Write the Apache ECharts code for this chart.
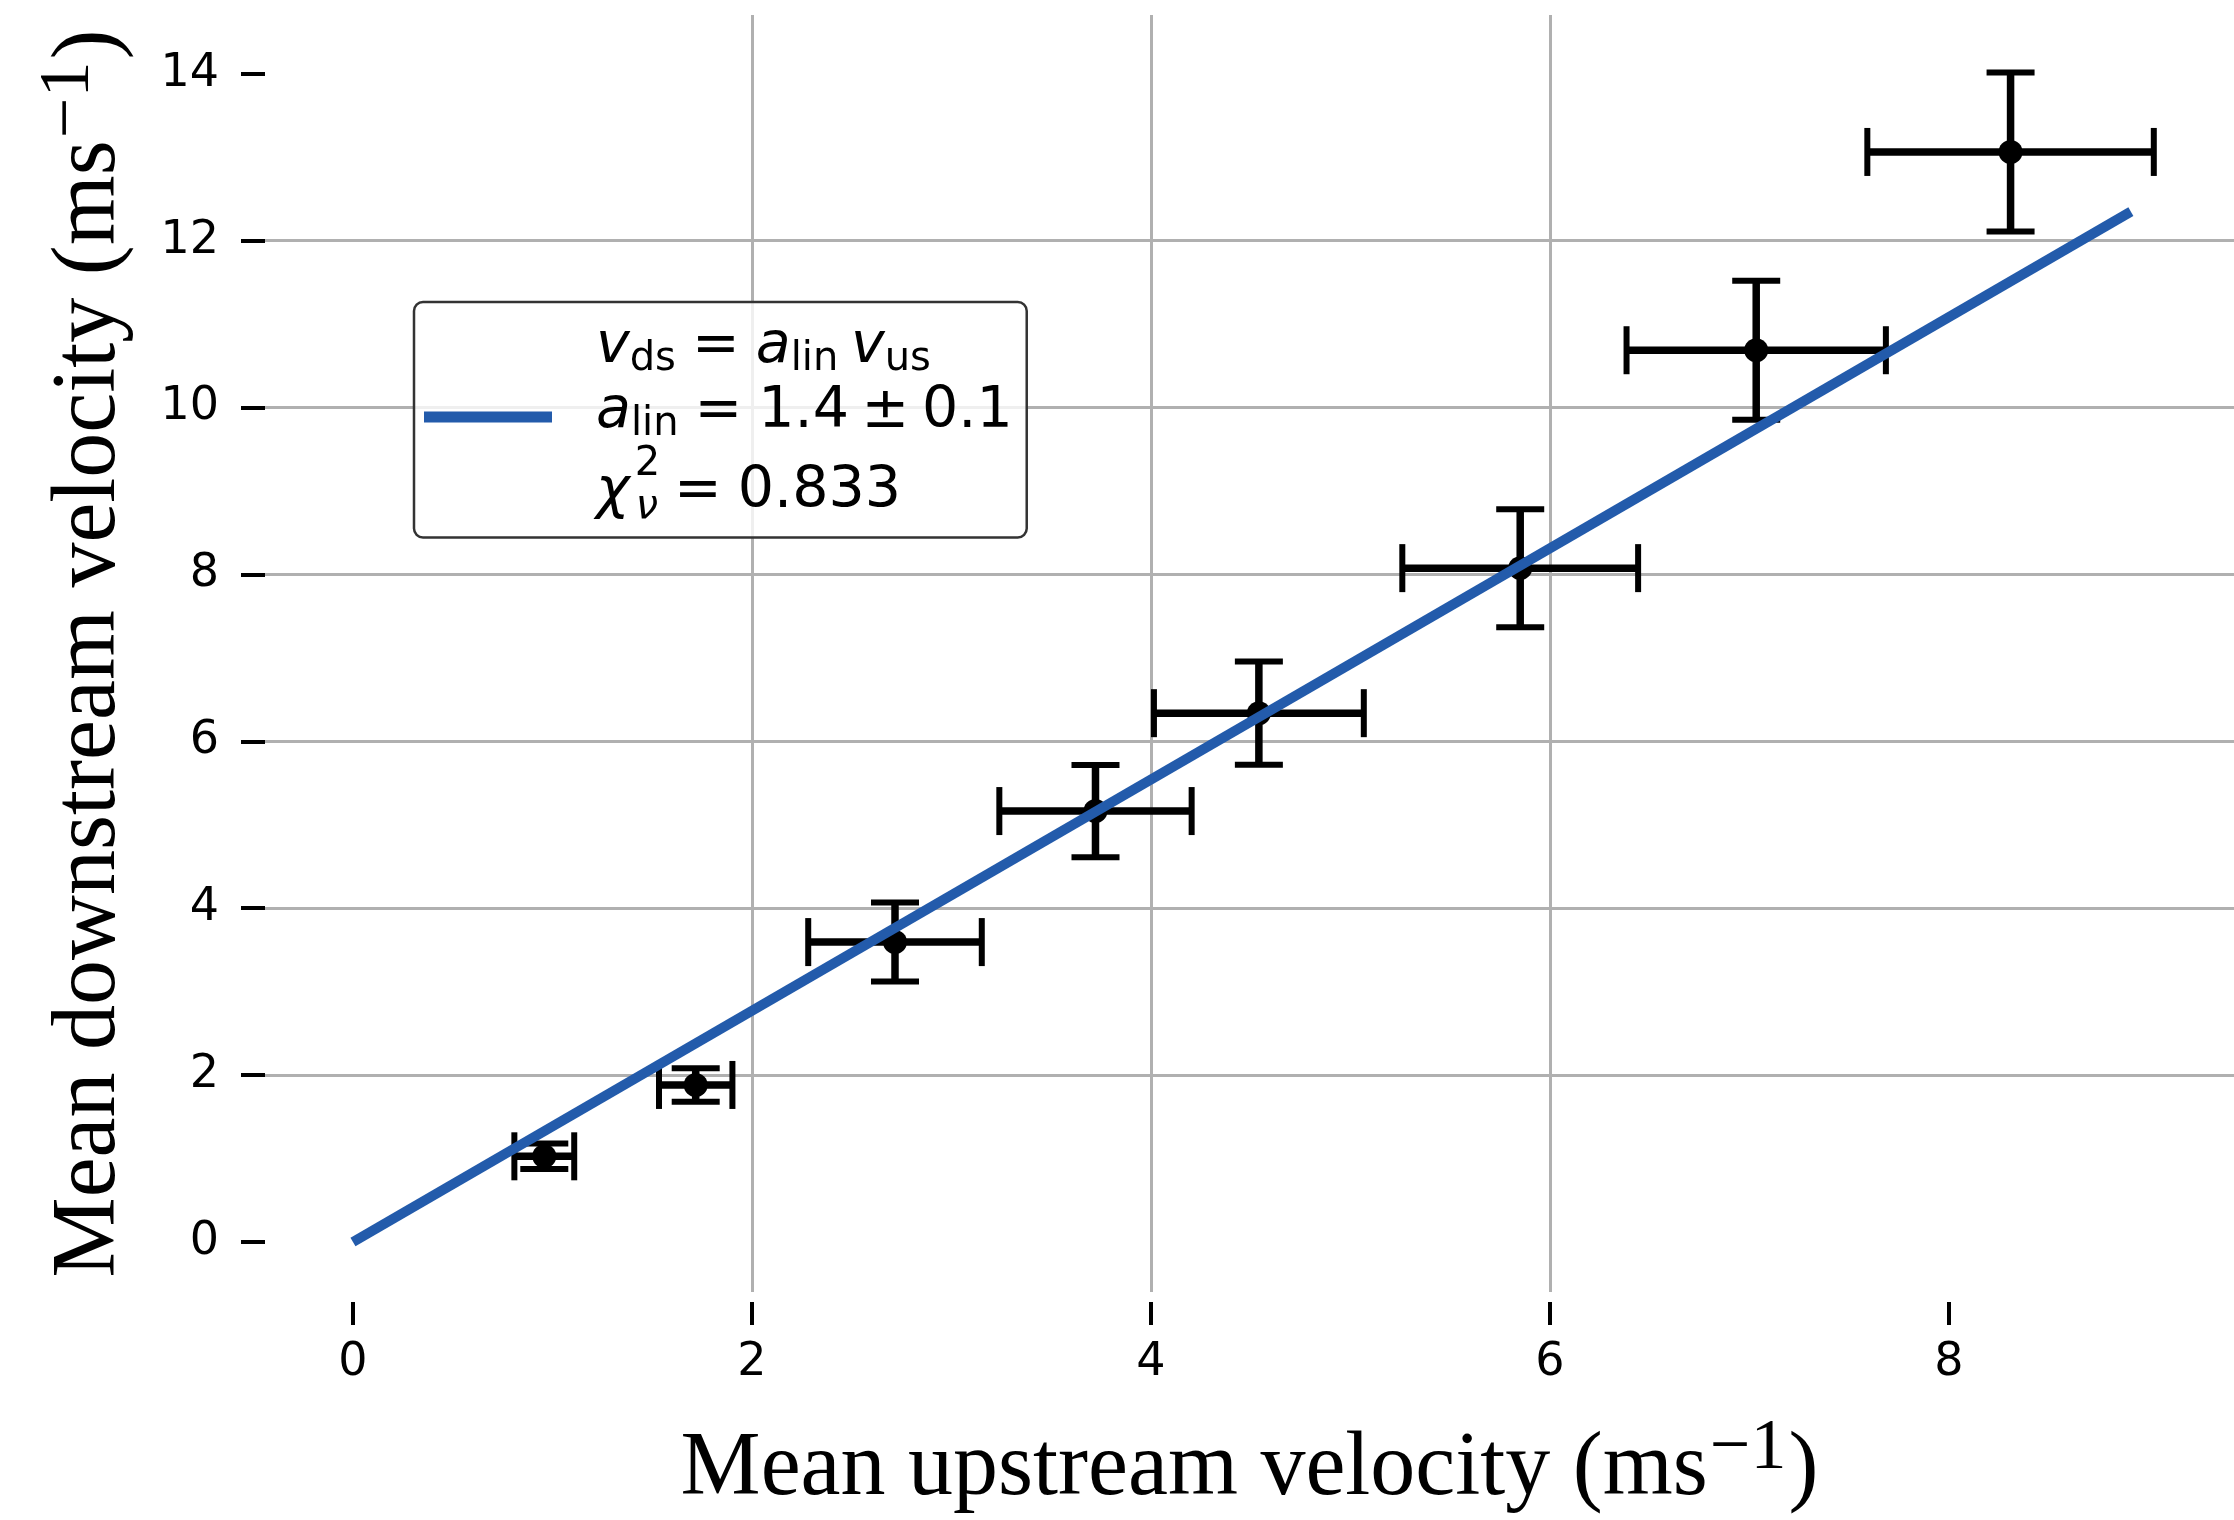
<!DOCTYPE html>
<html><head><meta charset="utf-8">
<script src="https://cdn.jsdelivr.net/npm/echarts@6/dist/echarts.min.js"></script>
<style>html,body{margin:0;padding:0;background:#fff}#c{width:2234px;height:1520px}</style>
</head><body><div id="c"></div>
<script>
// ---- data ----
const upstream      = [0.959, 1.718, 2.717, 3.722, 4.541, 5.851, 7.034, 8.309];
const upstreamErr   = [0.150, 0.184, 0.435, 0.482, 0.526, 0.591, 0.650, 0.718];
const downstream    = [1.027, 1.882, 3.594, 5.164, 6.337, 8.075, 10.686, 13.062];
const downstreamErr = [0.152, 0.200, 0.473, 0.553, 0.619, 0.707, 0.833, 0.953];
const fitX = [0, 8.912];
const fitY = [0, 12.346];
const xTicks = [0, 2, 4, 6, 8];
const yTicks = [0, 2, 4, 6, 8, 10, 12, 14];
const xTitle = 'Mean upstream velocity (ms';
const yTitle = 'Mean downstream velocity (ms';
const legendLines = [
  '{i1|v}{s1|ds}{op|=}{i1|a}{s1|lin }{i1|v}{s1|us}',
  '{i1|a}{s1|lin}{op|=}{n1|1.4}{pm|±}{n1|0.1}',
  '{i3|χ}{p3|2}{s3|ν}{op3|=}{n3|0.833}'
];

const errData = upstream.map((x, i) => [x, downstream[i], upstreamErr[i], downstreamErr[i]]);
const fitData = fitX.map((x, i) => [x, fitY[i]]);

const chart = echarts.init(document.getElementById('c'), null, {renderer: 'canvas'});
const serif = 'Liberation Serif';
const sans = 'DejaVu Sans';
const titleRich = {
  t: {fontFamily: serif, fontSize: 90, lineHeight: 100, color: '#000'},
  sup: {fontFamily: serif, fontSize: 72, lineHeight: 40, padding: [0, 2, 42, 2], color: '#000'}
};
const gridLine = {show: true, showMinLine: false, showMaxLine: false, lineStyle: {color: '#b0b0b0', width: 3}};

chart.setOption({
  animation: false,
  backgroundColor: '#fff',
  grid: {left: 265, right: 0, top: 15, bottom: 228, containLabel: false, outerBoundsMode: 'none'},
  xAxis: {
    type: 'value', min: -0.441, max: 9.429, offset: 10,
    axisLine: {show: false, onZero: false},
    axisTick: {show: true, length: 23, customValues: xTicks, lineStyle: {color: '#000', width: 4}},
    axisLabel: {show: true, customValues: xTicks, margin: 38, fontFamily: sans, fontSize: 46, color: '#000'},
    splitLine: gridLine,
    name: '{t|' + xTitle + '}{sup|−1}{t|)}',
    nameLocation: 'middle', nameGap: 118,
    nameTextStyle: {rich: titleRich}
  },
  yAxis: {
    type: 'value', min: -0.599, max: 14.703,
    axisLine: {show: false, onZero: false},
    axisTick: {show: true, length: 24, customValues: yTicks, lineStyle: {color: '#000', width: 4}},
    axisLabel: {show: true, customValues: yTicks, margin: 46, fontFamily: sans, fontSize: 46, color: '#000'},
    splitLine: gridLine,
    name: '{t|' + yTitle + '}{sup|−1}{t|)}',
    nameLocation: 'middle', nameGap: 125,
    nameTextStyle: {rich: titleRich}
  },
  legend: {
    data: ['fit'], left: 414, top: 302, orient: 'vertical',
    padding: [16.5, 14, 9.5, 10], itemWidth: 128, itemHeight: 11, itemGap: 0,
    icon: 'rect',
    backgroundColor: 'rgba(255,255,255,0.8)', borderColor: '#333', borderWidth: 2.5, borderRadius: 9,
    formatter: () => legendLines.join('\n'),
    textStyle: {
      padding: [5, 0, 0, 39],
      rich: {
        n1: {fontFamily: sans, fontSize: 57, lineHeight: 65, color: '#000'},
        op: {fontFamily: sans, fontSize: 57, lineHeight: 65, padding: [0, 16, 0, 16], color: '#000'},
        pm: {fontFamily: sans, fontSize: 57, lineHeight: 65, padding: [0, 12.7, 0, 12.7], color: '#000'},
        i1: {fontFamily: sans, fontSize: 57, lineHeight: 65, fontStyle: 'italic', color: '#000'},
        s1: {fontFamily: sans, fontSize: 40, lineHeight: 41, verticalAlign: 'bottom', color: '#000'},
        n3: {fontFamily: sans, fontSize: 57, lineHeight: 80, padding: [15, 0, 0, 0], color: '#000'},
        op3: {fontFamily: sans, fontSize: 57, lineHeight: 80, padding: [15, 16, 0, 16], color: '#000'},
        i3: {fontFamily: sans, fontSize: 57, lineHeight: 80, padding: [15, 0, 0, 0], fontStyle: 'italic', color: '#000'},
        p3: {fontFamily: sans, fontSize: 40, lineHeight: 34, verticalAlign: 'top', padding: [0, 0, 0, 5], width: 1, color: '#000'},
        s3: {fontFamily: sans, fontSize: 40, lineHeight: 80, padding: [47, 0, 0, 0], fontStyle: 'italic', color: '#000'}
      }
    }
  },
  series: [
    {
      name: 'data', type: 'custom', z: 2,
      data: errData,
      encode: {x: 0, y: 1},
      renderItem: function (params, api) {
        const x = api.value(0), y = api.value(1), ex = api.value(2), ey = api.value(3);
        const c = api.coord([x, y]);
        const l = api.coord([x - ex, y]), r = api.coord([x + ex, y]);
        const t = api.coord([x, y + ey]), b = api.coord([x, y - ey]);
        const cap = 24;
        const bar = {stroke: '#000', lineWidth: 7.5, fill: null};
        const cp = {stroke: '#000', lineWidth: 6, fill: null};
        return {type: 'group', children: [
          {type: 'line', shape: {x1: l[0], y1: l[1], x2: r[0], y2: r[1]}, style: bar},
          {type: 'line', shape: {x1: t[0], y1: t[1], x2: b[0], y2: b[1]}, style: bar},
          {type: 'line', shape: {x1: l[0], y1: l[1] - cap, x2: l[0], y2: l[1] + cap}, style: cp},
          {type: 'line', shape: {x1: r[0], y1: r[1] - cap, x2: r[0], y2: r[1] + cap}, style: cp},
          {type: 'line', shape: {x1: t[0] - cap, y1: t[1], x2: t[0] + cap, y2: t[1]}, style: cp},
          {type: 'line', shape: {x1: b[0] - cap, y1: b[1], x2: b[0] + cap, y2: b[1]}, style: cp},
          {type: 'circle', shape: {cx: c[0], cy: c[1], r: 12}, style: {fill: '#000'}}
        ]};
      }
    },
    {
      name: 'fit', type: 'line', z: 3,
      data: fitData, showSymbol: false, symbol: 'none',
      color: '#235bab',
      lineStyle: {color: '#235bab', width: 10, cap: 'butt'}
    }
  ]
});
</script>
</body></html>
